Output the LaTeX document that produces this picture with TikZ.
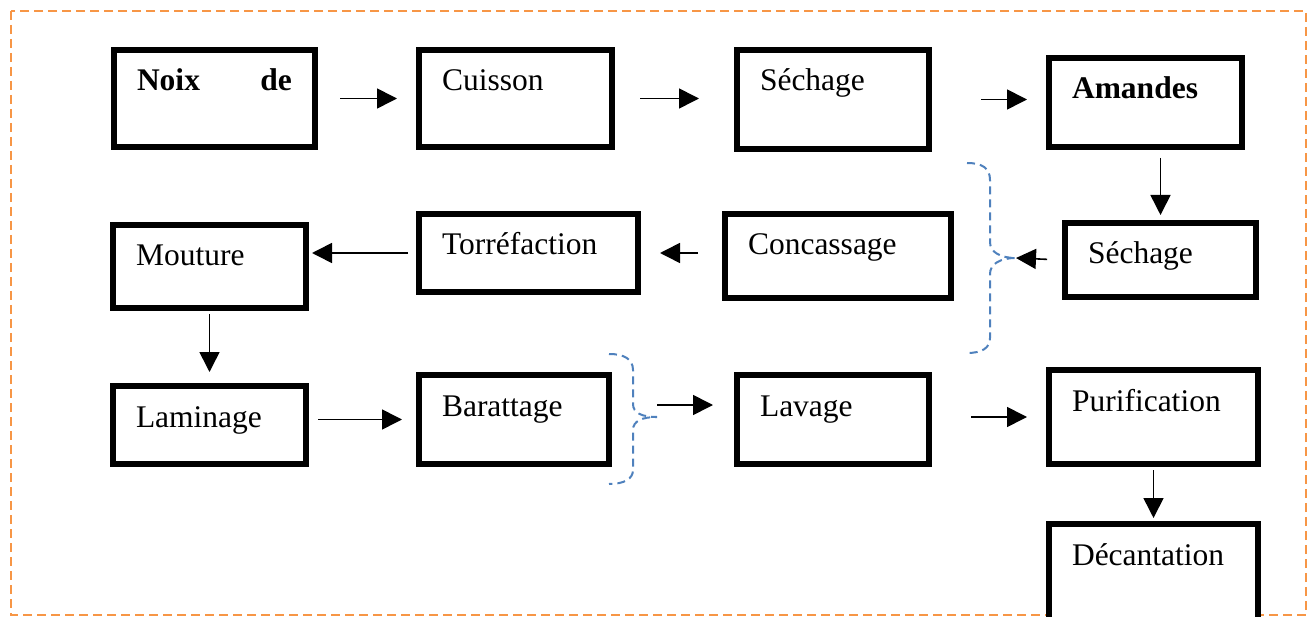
\documentclass[tikz,border=0pt]{standalone}
\usepackage{fontspec}
\setmainfont{Liberation Serif}
\usetikzlibrary{arrows.meta}

\definecolor{orangecadre}{HTML}{F79646}
\definecolor{bleuaccolade}{HTML}{4F81BD}

\begin{document}
\begin{tikzpicture}[x=1pt, y=-1pt,
  etape/.style={draw, fill=white, line width=6pt, anchor=north west, inner xsep=23pt, inner ysep=0pt,
    text height=41pt, align=left, font=\fontsize{31.5}{38}\selectfont},
  fleche/.style={-{Triangle[length=20pt, width=20pt]}, line width=1.6pt},
  accolade/.style={draw=bleuaccolade, line width=2pt, dash pattern=on 8pt off 5pt}]
\useasboundingbox (0,0) rectangle (1311,617);

% cadre
\draw[orangecadre, line width=2pt, dash pattern=on 9pt off 5pt] (11,11) rectangle (1306,615);

% ligne 1
\node[etape, text width=155pt, text depth=56pt] (noix) at (111,47) {\textbf{Noix\hfill de}};
\node[etape, text width=147pt, text depth=56pt] (cuisson) at (416,47) {Cuisson};
\node[etape, text width=146pt, text depth=58pt] (sechage1) at (734,47) {Séchage};
\node[etape, text width=147pt, text depth=48pt] (amandes) at (1046,55) {\textbf{Amandes}};

% ligne 2
\node[etape, text width=145pt, text depth=33pt] (sechage2) at (1062,220) {Séchage};
\node[etape, text width=180pt, text depth=43pt] (concassage) at (722,211) {Concassage};
\node[etape, text width=173pt, text depth=37pt] (torrefaction) at (416,211) {Torréfaction};
\node[etape, text width=147pt, text depth=42pt] (mouture) at (110,222) {Mouture};

% ligne 3
\node[etape, text width=147pt, text depth=37pt] (laminage) at (110,383) {Laminage};
\node[etape, text width=144pt, text depth=48pt] (barattage) at (416,372) {Barattage};
\node[etape, text width=146pt, text depth=48pt] (lavage) at (734,372) {Lavage};
\node[etape, text width=163pt, text depth=53pt] (purification) at (1046,367) {Purification};
\node[etape, text width=163pt, text depth=59pt] (decantation) at (1046,521) {Décantation};

% accolades
\coordinate (pointe1) at (1016,258);
\coordinate (depart2) at (657,405);
\draw[accolade] (967,163) .. controls (982,163) and (990,168) .. (990,180) -- (990,242)
  .. controls (990,252) and (1000,258) .. (pointe1)
  .. controls (1000,258) and (990,264) .. (990,274) -- (990,338)
  .. controls (990,348) and (982,353) .. (967,353);
\draw[accolade] (609,354) .. controls (624,354) and (633,359) .. (633,370) -- (633,404)
  .. controls (633,413) and (642,417) .. (657,417)
  .. controls (642,417) and (633,421) .. (633,430) -- (633,470)
  .. controls (633,479) and (624,484) .. (609,484);

% fleches
\draw[fleche, shorten <=22pt, shorten >=19pt] (noix.east) -- (noix.east -| cuisson.west);
\draw[fleche, shorten <=25pt, shorten >=35pt] (cuisson.east) -- (cuisson.east -| sechage1.west);
\draw[fleche, shorten <=49pt, shorten >=19pt] (sechage1.east) -- (sechage1.east -| amandes.west);
\draw[fleche, shorten <=8pt, shorten >=5pt] (amandes.south -| sechage2.north) -- (sechage2.north);
\draw[fleche, shorten <=15pt] (sechage2.west) -- (pointe1);
\draw[fleche, shorten <=24pt, shorten >=19pt] (torrefaction.east -| concassage.west) -- (torrefaction.east);
\draw[fleche, shorten <=8pt, shorten >=3pt] (torrefaction.west) -- (torrefaction.west -| mouture.east);
\draw[fleche, shorten <=3pt, shorten >=11pt] (mouture.south) -- (laminage.north);
\draw[fleche, shorten <=9pt, shorten >=14pt] (barattage.west -| laminage.east) -- (barattage.west);
\draw[fleche, shorten >=21pt] (depart2) -- (depart2 -| lavage.west);
\draw[fleche, shorten <=39pt, shorten >=19pt] (purification.west -| lavage.east) -- (purification.west);
\draw[fleche, shorten <=3pt, shorten >=3pt] (purification.south) -- (decantation.north);
\end{tikzpicture}
\end{document}
